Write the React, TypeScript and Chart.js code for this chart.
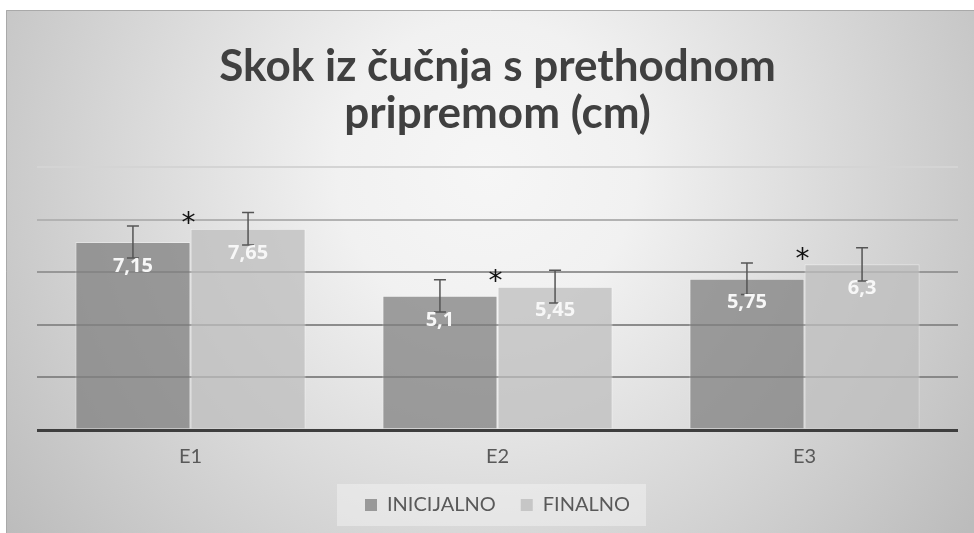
import React, { useEffect, useRef } from 'react';
import { Chart, registerables } from 'chart.js';

Chart.register(...registerables);

const titleLines = ['Skok iz čučnja s prethodnom', 'pripremom (cm)'];
const categories = ['E1', 'E2', 'E3'];
const seriesNames = ['INICIJALNO', 'FINALNO'];
const inicijalno = [7.15, 5.1, 5.75];
const finalno = [7.65, 5.45, 6.3];
const inicijalnoErr = [0.61, 0.61, 0.6];
const finalnoErr = [0.62, 0.62, 0.63];
const significant = [true, true, true];
const yMin = 0;
const yMax = 10;
const yStep = 2;

const W = 974;
const H = 533;

const fmt = (v: number) => String(v).replace('.', ',');

const gridColor = (v: number) => {
  if (v === 0) return '#3e3e3e';
  if (v === 2) return '#888888';
  if (v === 4) return '#8c8c8c';
  if (v === 6) return '#979797';
  if (v === 8) return '#b2b2b2';
  return '#d4d4d4';
};

const bgPlugin = {
  id: 'bgPlugin',
  beforeDraw(chart: any) {
    const ctx = chart.ctx;
    ctx.save();
    ctx.fillStyle = '#ffffff';
    ctx.fillRect(0, 0, W, H);
    const g = ctx.createRadialGradient(487, 170, 0, 487, 170, 600);
    g.addColorStop(0, '#f6f6f6');
    g.addColorStop(0.25, '#f1f1f1');
    g.addColorStop(1, '#bcbcbc');
    ctx.fillStyle = g;
    ctx.fillRect(6, 10, W - 6, H - 10);
    ctx.strokeStyle = '#a9a9a9';
    ctx.lineWidth = 1;
    ctx.beginPath();
    ctx.moveTo(6.5, H);
    ctx.lineTo(6.5, 10.5);
    ctx.lineTo(W, 10.5);
    ctx.stroke();
    // legend background box
    const lg = chart.legend;
    if (lg && lg.legendHitBoxes && lg.legendHitBoxes.length) {
      const hb = lg.legendHitBoxes;
      let l = Infinity, r = -Infinity, t = Infinity, b = -Infinity;
      hb.forEach((h: any) => {
        l = Math.min(l, h.left);
        r = Math.max(r, h.left + h.width);
        t = Math.min(t, h.top);
        b = Math.max(b, h.top + h.height);
      });
      const cy = (t + b) / 2;
      ctx.fillStyle = 'rgba(240,240,240,0.55)';
      ctx.fillRect(l - 28, cy - 21, r - l + 44, 42);
    }
    ctx.restore();
  },
};

const marksPlugin = {
  id: 'marksPlugin',
  afterDatasetsDraw(chart: any) {
    const ctx = chart.ctx;
    const ys = chart.scales.y;
    const errs = [inicijalnoErr, finalnoErr];
    ctx.save();
    chart.data.datasets.forEach((ds: any, di: number) => {
      const meta = chart.getDatasetMeta(di);
      meta.data.forEach((el: any, i: number) => {
        const v = ds.data[i];
        const e = errs[di][i];
        const top = ys.getPixelForValue(v + e);
        const bot = ys.getPixelForValue(v - e);
        ctx.strokeStyle = '#555555';
        ctx.lineWidth = 1.5;
        ctx.beginPath();
        ctx.moveTo(el.x, top);
        ctx.lineTo(el.x, bot);
        ctx.moveTo(el.x - 6, top);
        ctx.lineTo(el.x + 6, top);
        ctx.moveTo(el.x - 6, bot);
        ctx.lineTo(el.x + 6, bot);
        ctx.stroke();
      });
    });
    chart.data.datasets.forEach((ds: any, di: number) => {
      const meta = chart.getDatasetMeta(di);
      meta.data.forEach((el: any, i: number) => {
        ctx.fillStyle = '#f7f7f7';
        ctx.font = 'bold 20px "Open Sans"';
        ctx.textAlign = 'center';
        ctx.textBaseline = 'middle';
        ctx.fillText(fmt(ds.data[i]), el.x, el.y + 24);
      });
    });
    const m0 = chart.getDatasetMeta(0);
    const m1 = chart.getDatasetMeta(1);
    ctx.fillStyle = '#111111';
    ctx.font = '28px "DejaVu Sans"';
    ctx.textAlign = 'center';
    ctx.textBaseline = 'alphabetic';
    const mt = ctx.measureText('*');
    const off = (mt.actualBoundingBoxDescent - mt.actualBoundingBoxAscent) / 2;
    significant.forEach((s, i) => {
      if (!s) return;
      const x = (m0.data[i].x + m1.data[i].x) / 2 - 2;
      const y = ys.getPixelForValue(finalno[i] + finalnoErr[i]) + 6;
      ctx.fillText('*', x, y - off);
    });
    ctx.restore();
  },
};

export default function App() {
  const ref = useRef<HTMLCanvasElement | null>(null);
  useEffect(() => {
    if (!ref.current) return;
    const chart = new Chart(ref.current, {
      type: 'bar',
      data: {
        labels: categories,
        datasets: [
          {
            label: seriesNames[0],
            data: inicijalno,
            backgroundColor: 'rgba(128,128,128,0.75)',
            borderColor: 'rgba(255,255,255,0.35)',
            borderWidth: 1,
            barPercentage: 1,
            categoryPercentage: 0.75,
          },
          {
            label: seriesNames[1],
            data: finalno,
            backgroundColor: 'rgba(190,190,190,0.75)',
            borderColor: 'rgba(255,255,255,0.45)',
            borderWidth: 1,
            barPercentage: 1,
            categoryPercentage: 0.75,
          },
        ],
      },
      options: {
        responsive: false,
        animation: false,
        events: [],
        layout: { padding: { left: 37, right: 16, top: 0, bottom: 8 } },
        plugins: {
          title: {
            display: true,
            text: titleLines,
            color: '#404040',
            font: { family: 'Lato', weight: 'bold', size: 44, lineHeight: 47 / 44 },
            padding: { top: 43, bottom: 30 },
          },
          legend: {
            display: true,
            position: 'bottom',
            labels: {
              color: '#595959',
              font: { family: 'Lato', size: 20 },
              boxWidth: 12,
              boxHeight: 12,
              padding: 25,
              generateLabels: (chart: any) =>
                chart.data.datasets.map((ds: any, i: number) => ({
                  text: ds.label,
                  fillStyle: i === 0 ? '#999999' : '#c6c6c6',
                  strokeStyle: 'rgba(0,0,0,0)',
                  lineWidth: 0,
                  fontColor: '#595959',
                  datasetIndex: i,
                  hidden: false,
                })),
            },
          },
          tooltip: { enabled: false },
        },
        scales: {
          x: {
            grid: { display: false, drawTicks: false },
            border: { display: false },
            ticks: {
              color: '#595959',
              font: { family: 'Lato', size: 20 },
              padding: 15,
            },
            afterFit: (s: any) => {
              s.height = 40;
            },
          },
          y: {
            min: yMin,
            max: yMax,
            border: { display: false },
            ticks: { display: false, stepSize: yStep },
            grid: {
              drawTicks: false,
              color: (c: any) => gridColor(c.tick ? c.tick.value : 0),
              lineWidth: (c: any) => (c.tick && c.tick.value === 0 ? 3 : 2),
            },
          },
        },
      },
      plugins: [bgPlugin, marksPlugin],
    });
    return () => chart.destroy();
  }, []);
  return (
    <div style={{ position: 'fixed', left: 0, top: 0, width: W, height: H }}>
      <canvas ref={ref} width={W} height={H} style={{ width: W, height: H, display: 'block' }} />
    </div>
  );
}
